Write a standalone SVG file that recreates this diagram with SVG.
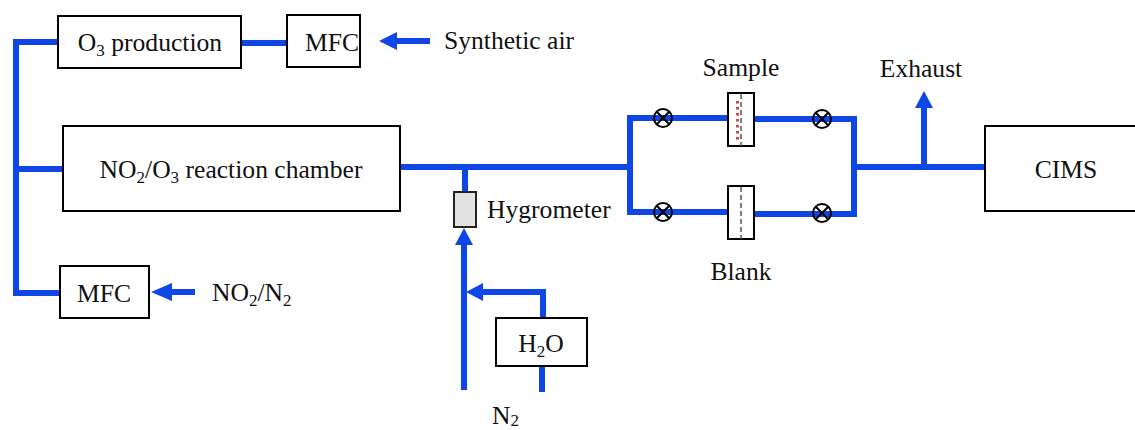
<svg xmlns="http://www.w3.org/2000/svg" width="1135" height="430" viewBox="0 0 1135 430">
<defs><style>
.b{fill:#fff;stroke:#000;stroke-width:2}
.t{font-family:"Liberation Serif","Times New Roman",serif;font-size:25.6px;fill:#111}
.m{text-anchor:middle}
.s{font-size:17px}
.c{fill:none;stroke:#0f47e6;stroke-width:6}
.a{fill:#0f47e6}
.v{fill:none;stroke:#000;stroke-width:2}
.o{fill:none;stroke:#000;stroke-width:2}
.d{stroke:#555;stroke-width:1.5;stroke-dasharray:5 3;fill:none}
</style></defs>
<rect width="1135" height="430" fill="#fff"/>
<g id="connectors">
<path class="c" d="M58 42H16V293H60M16 169H63M241 43H287M397 41H430M400 167H630M630 118V213M627 118H728M627 212H728M754 119H854V214H754M854 167H985M924 167V108M465 167V195M464 390V245M543 318V292H483M542 366V392M195 292H172"/>
<path class="a" d="M397 32V50L379 41ZM172 283V301L151 292ZM464 228L473 245H455ZM924 91L933 108H915ZM466 292L483 283V301Z"/>
</g>
<g id="o3"><rect class="b" x="58" y="16" width="183" height="52"/><text class="t m" x="150" y="51">O<tspan class="s" dy="5">3</tspan><tspan dy="-5"> production</tspan></text></g>
<g id="mfc1"><rect class="b" x="287" y="15" width="73" height="52"/><text class="t m" x="332" y="51">MFC</text></g>
<g id="air"><text class="t" x="444" y="49">Synthetic air</text></g>
<g id="chamber"><rect class="b" x="63" y="126" width="337" height="85"/><text class="t m" x="231" y="178">NO<tspan class="s" dy="5">2</tspan><tspan dy="-5">/O</tspan><tspan class="s" dy="5">3</tspan><tspan dy="-5"> reaction chamber</tspan></text></g>
<g id="mfc2"><rect class="b" x="60" y="266" width="89" height="52"/><text class="t m" x="104" y="302">MFC</text></g>
<g id="no2"><text class="t" x="212" y="301">NO<tspan class="s" dy="5">2</tspan><tspan dy="-5">/N</tspan><tspan class="s" dy="5">2</tspan></text></g>
<g id="hygrometer"><rect x="454" y="192" width="22" height="35" fill="#e2e2e2" stroke="#222" stroke-width="2"/><text class="t" x="487" y="218">Hygrometer</text></g>
<g id="h2o"><rect class="b" x="496" y="318" width="91" height="48"/><text class="t m" x="541" y="352">H<tspan class="s" dy="5">2</tspan><tspan dy="-5">O</tspan></text></g>
<g id="n2"><text class="t" x="492" y="424">N<tspan class="s" dy="2">2</tspan></text></g>
<g id="sample"><rect class="b" x="728" y="93" width="26" height="53"/><path class="d" d="M741 94V146"/><path d="M737.500 101V142" fill="none" stroke="#d04050" stroke-width="3" stroke-dasharray="2.500 3.500"/><text class="t m" x="741" y="76">Sample</text></g>
<g id="blank"><rect class="b" x="728" y="186" width="26" height="53"/><path class="d" d="M741 187V239"/><text class="t m" x="741" y="280">Blank</text></g>
<g id="valve1"><circle class="o" cx="663" cy="118" r="9"/><path class="v" d="M657 112L669 124M669 112L657 124"/></g>
<g id="valve2"><circle class="o" cx="822" cy="119" r="9"/><path class="v" d="M816 113L828 125M828 113L816 125"/></g>
<g id="valve3"><circle class="o" cx="663" cy="212" r="9"/><path class="v" d="M657 206L669 218M669 206L657 218"/></g>
<g id="valve4"><circle class="o" cx="822" cy="213" r="9"/><path class="v" d="M816 207L828 219M828 207L816 219"/></g>
<g id="exhaust"><text class="t m" x="921" y="77">Exhaust</text></g>
<g id="cims"><rect class="b" x="985" y="126" width="152" height="85"/><text class="t m" x="1066" y="178">CIMS</text></g>
</svg>
